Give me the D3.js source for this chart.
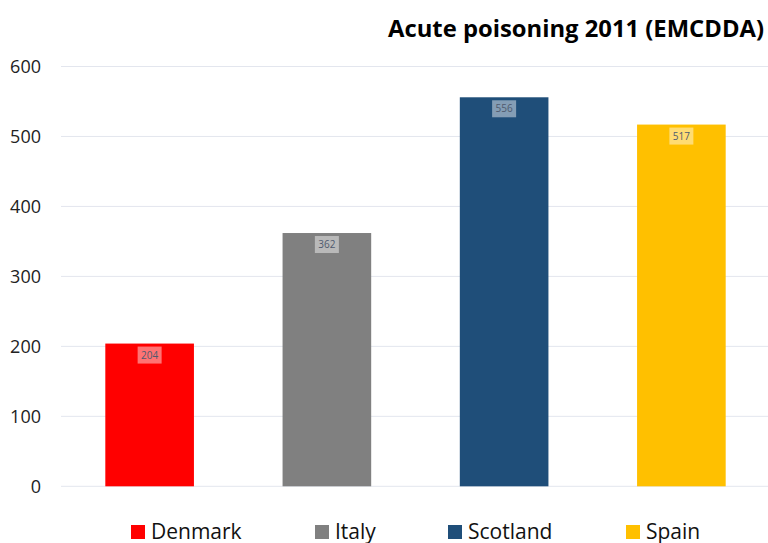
<!DOCTYPE html>
<html>
<head>
<meta charset="utf-8">
<script src="https://cdn.jsdelivr.net/npm/d3@7"></script>
<style>
  body { margin: 0; background: #fff; }
  text { font-family: "Open Sans", sans-serif; }
</style>
</head>
<body>
<div id="chart"></div>
<script>
// chart data
var countries = ["Denmark", "Italy", "Scotland", "Spain"];
var cases = [204, 362, 556, 517];
var colors = ["#ff0000", "#808080", "#1f4e79", "#ffc000"];
var yTicks = [0, 100, 200, 300, 400, 500, 600];

var svgWidth = 768;
var svgHeight = 543;

var margin = { top: 66.5, right: 0, bottom: 56.7, left: 61 };
var width = svgWidth - margin.left - margin.right;
var height = svgHeight - margin.top - margin.bottom;

var svg = d3.select("#chart")
  .append("svg")
  .attr("width", svgWidth)
  .attr("height", svgHeight);

var chartGroup = svg.append("g")
  .attr("transform", `translate(${margin.left}, ${margin.top})`);

var xScale = d3.scaleBand()
  .domain(countries)
  .range([0, width + 2])
  .paddingInner(0.5)
  .paddingOuter(0.25);

var yScale = d3.scaleLinear()
  .domain([0, 600])
  .range([height, 0]);

// gridlines
chartGroup.selectAll(".grid")
  .data(yTicks)
  .enter()
  .append("line")
  .attr("x1", 0)
  .attr("x2", width)
  .attr("y1", d => yScale(d))
  .attr("y2", d => yScale(d))
  .attr("stroke", "#e3e6ee")
  .attr("stroke-width", 1);

// y axis labels
var leftAxis = d3.axisLeft(yScale)
  .tickValues(yTicks)
  .tickSize(0)
  .tickPadding(20);

var yAxis = chartGroup.append("g").call(leftAxis);
yAxis.select(".domain").remove();
yAxis.selectAll("text")
  .attr("font-family", "'Open Sans', sans-serif")
  .attr("font-size", 18)
  .attr("fill", "#222");

// bars
var data = countries.map((c, i) => ({ country: c, value: cases[i], color: colors[i] }));

chartGroup.selectAll(".bar")
  .data(data)
  .enter()
  .append("rect")
  .attr("x", d => xScale(d.country))
  .attr("y", d => yScale(d.value))
  .attr("width", xScale.bandwidth())
  .attr("height", d => height - yScale(d.value))
  .attr("fill", d => d.color);

// value labels
var labels = chartGroup.selectAll(".lbl")
  .data(data)
  .enter()
  .append("g")
  .attr("transform", d => `translate(${xScale(d.country) + xScale.bandwidth() / 2}, ${yScale(d.value) + 3})`);

labels.append("rect")
  .attr("x", -12)
  .attr("y", 0)
  .attr("width", 24)
  .attr("height", 17)
  .attr("fill", "#fff")
  .attr("fill-opacity", 0.45);

labels.append("text")
  .attr("x", 0)
  .attr("y", 12)
  .attr("text-anchor", "middle")
  .attr("font-size", 10)
  .attr("fill", "#4f5a6e")
  .text(d => d.value);

// title
svg.append("text")
  .attr("x", 764)
  .attr("y", 37)
  .attr("text-anchor", "end")
  .attr("font-size", 23.8)
  .attr("font-weight", "bold")
  .attr("fill", "#000")
  .text("Acute poisoning 2011 (EMCDDA)");

// legend
var legend = svg.append("g");
var legendX = [131, 315, 448, 626];

var items = legend.selectAll(".item")
  .data(data)
  .enter()
  .append("g")
  .attr("transform", (d, i) => `translate(${legendX[i]}, 525)`);

items.append("rect")
  .attr("width", 14)
  .attr("height", 14)
  .attr("fill", d => d.color);

items.append("text")
  .attr("x", 20)
  .attr("y", 13.5)
  .attr("font-size", 21)
  .attr("fill", "#111")
  .text(d => d.country);
</script>
</body>
</html>
